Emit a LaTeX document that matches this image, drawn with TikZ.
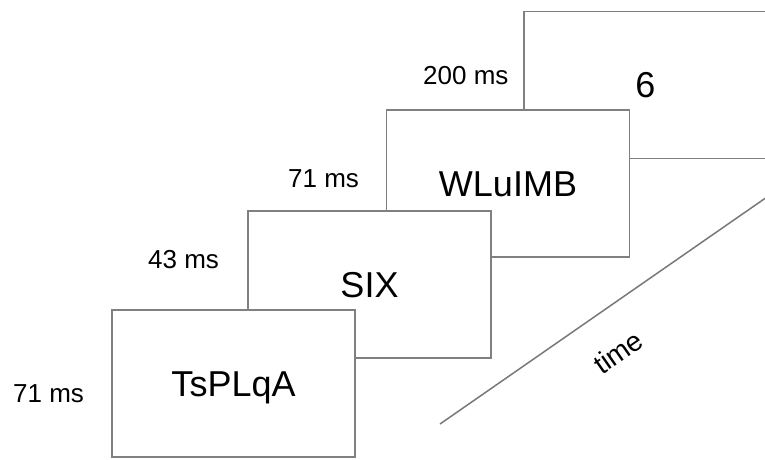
\documentclass[tikz,border=0pt]{standalone}
\usepackage{fontspec}
\setmainfont{Liberation Sans}
\begin{document}
\begin{tikzpicture}[x=1pt,y=-1pt,
  frame/.style={draw={rgb,255:red,128;green,128;blue,128}, line width=1.6pt, fill=white,
    rectangle, minimum width=243pt, minimum height=147pt, inner sep=0pt,
    text height=25.8pt, text depth=0pt, font=\fontsize{36}{40}\selectfont},
  dur/.style={anchor=base west, inner sep=0pt, font=\fontsize{26}{29}\selectfont},
  timeline/.style={draw={rgb,255:red,120;green,120;blue,120}, line width=1.5pt}]
\useasboundingbox (0,0) rectangle (765,459);
\clip (0,0) rectangle (765,459);

% stimulus frames, drawn from the last (back) to the first (front)
\node[frame] (f4) at (645.5,85)  {6};
\node[frame] (f3) at (508,183.5) {WLuIMB};
\node[frame] (f2) at (369.5,284.5) {SIX};
\node[frame] (f1) at (233.5,383.5) {TsPLqA};

% durations
\node[dur] (d1) at (13,402)  {71 ms};
\node[dur] (d2) at (148,268) {43 ms};
\node[dur] (d3) at (288,187) {71 ms};
\node[dur] (d4) at (423,84)  {200 ms};

% time axis
\coordinate (t0) at (440,424);
\coordinate (t1) at (767,197);
\draw[timeline] (t0) -- (t1);
\node[rotate=34.8, font=\fontsize{28}{31}\selectfont, inner sep=0pt] (tl) at (618,352) {time};
\end{tikzpicture}
\end{document}
